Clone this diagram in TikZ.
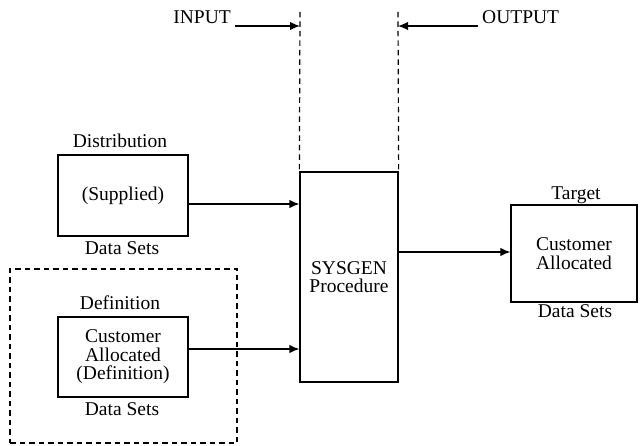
\documentclass[tikz,border=0pt]{standalone}
\usepackage{fontspec}
\setmainfont{Liberation Serif}
\usetikzlibrary{arrows.meta}
\begin{document}
\begin{tikzpicture}[x=1pt,y=-1pt,
  box/.style={draw,line width=1.3pt,inner sep=0pt,align=center,font=\fontsize{19.5}{18.5}\selectfont},
  lbl/.style={inner sep=0pt,align=center,font=\fontsize{19.5}{18.5}\selectfont},
  arr/.style={line width=1.3pt,-{Latex[length=10pt,width=8.5pt]}},
  dsh/.style={line width=1.2pt,dash pattern=on 5.5pt off 4pt}]
\useasboundingbox (0,0) rectangle (640,446);

% dashed group around definition data sets
\node[draw,dsh,inner sep=0pt,minimum width=227pt,minimum height=174pt] (grp) at (123.5,356) {};

% boxes
\node[box,minimum width=130pt,minimum height=81pt] (dist) at (123,195.5) {(Supplied)};
\node[box,minimum width=130pt,minimum height=80pt] (def) at (123,357) {Customer\\Allocated\\(Definition)};
\node[box,minimum width=98pt,minimum height=210pt] (sys) at (349,277) {SYSGEN\\Procedure};
\node[box,minimum width=126pt,minimum height=97pt] (tgt) at (574,253.5) {Customer\\Allocated};

% labels
\node[lbl] (distlbl) at (120,141) {Distribution};
\node[lbl] (distds) at (122,248) {Data Sets};
\node[lbl] (deflbl) at (120,303) {Definition};
\node[lbl] (defds) at (122,409) {Data Sets};
\node[lbl] (tgtlbl) at (576,195) {Target};
\node[lbl] (tgtds) at (575,311) {Data Sets};
\node[lbl,anchor=base east] (inlbl) at (231,23.5) {INPUT};
\node[lbl,anchor=base west] (outlbl) at (482,23.5) {OUTPUT};

% dashed boundary lines
\coordinate (inTop) at (300,12);
\coordinate (outTop) at (398,12);
\draw[dsh] (inTop) -- (sys.north west);
\draw[dsh] (outTop) -- (sys.north east);

% input / output arrows
\coordinate (inA) at (235,26);
\coordinate (inB) at (300,26);
\coordinate (outA) at (478,26);
\coordinate (outB) at (398,26);
\draw[arr] (inA) -- (inB);
\draw[arr] (outA) -- (outB);

% flow arrows
\draw[arr] (dist.east |- 0,204) -- (sys.west |- 0,204);
\draw[arr] (def.east |- 0,349) -- (sys.west |- 0,349);
\draw[arr] (sys.east |- 0,252) -- (tgt.west |- 0,252);
\end{tikzpicture}
\end{document}
